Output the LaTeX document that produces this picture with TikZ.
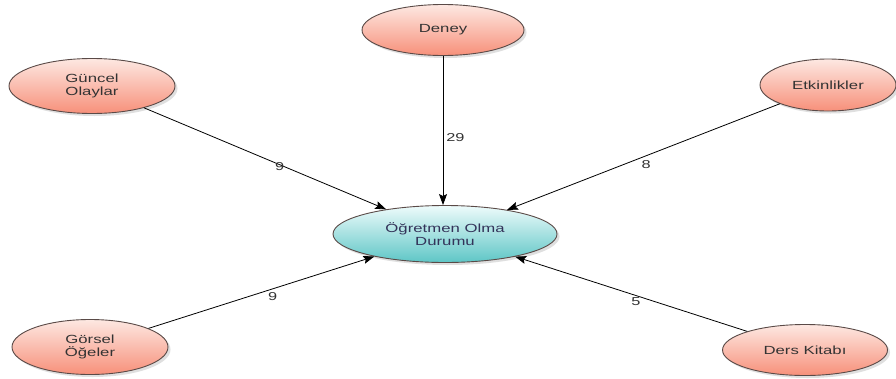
\documentclass[tikz,border=0pt]{standalone}
\usepackage{fontspec}
\setmainfont{Liberation Sans}
\newfontfamily\widefont[FakeStretch=1.42]{Liberation Sans}
\usetikzlibrary{shapes.geometric,arrows.meta,shadows}

\definecolor{pinklight}{HTML}{FDE8E2}
\definecolor{pinkdark}{HTML}{F7907A}
\definecolor{cyanlight}{HTML}{EEFBFB}
\definecolor{cyandark}{HTML}{5EC6C6}
\definecolor{rim}{HTML}{5A4A47}
\definecolor{ink}{HTML}{333333}

\tikzset{
  bubble/.style={ellipse, draw=rim, line width=0.9pt, inner sep=0pt,
    shading angle=45, top color=pinklight, bottom color=pinkdark,
    drop shadow={shadow xshift=2.5pt, shadow yshift=-2.5pt, opacity=0.25, fill=gray},
    align=center, text=ink,
    font=\widefont\fontsize{11.8}{13.5}\selectfont},
  hub/.style={bubble, top color=cyanlight, bottom color=cyandark, text=black!75!blue!60!gray},
  conn/.style={draw=black, line width=0.8pt,
    -{Stealth[length=11pt,width=8pt,inset=2pt]}},
  lbl/.style={inner sep=0pt, text=ink, font=\widefont\fontsize{11.5}{12}\selectfont}
}

\begin{document}
\begin{tikzpicture}[x=1pt,y=-1pt]
\useasboundingbox[fill=white] (0,0) rectangle (896,378);

\node[hub, minimum width=224pt, minimum height=57pt] (ogr) at (445,234) {Öğretmen Olma\\Durumu};

\node[bubble, minimum width=162pt, minimum height=51pt] (den) at (443,30) {Deney};
\node[bubble, minimum width=166pt, minimum height=55pt] (gun) at (92,86) {Güncel\\Olaylar};
\node[bubble, minimum width=136pt, minimum height=52pt] (etk) at (828,85) {Etkinlikler};
\node[bubble, minimum width=156pt, minimum height=55pt] (gor) at (90,347) {Görsel\\Öğeler};
\node[bubble, minimum width=165pt, minimum height=51pt] (der) at (805,350) {Ders Kitabı};

\draw[conn] (gun) -- node[lbl, pos=0.56, yshift=-2pt] {9} (ogr);
\draw[conn] (den.south) -- node[lbl, pos=0.55, anchor=west, xshift=3pt] {29} (den.south |- ogr.north);
\draw[conn] (etk) -- node[lbl, pos=0.49, yshift=-9pt] {8} (ogr);
\draw[conn] (gor) -- node[lbl, pos=0.55, yshift=-8pt] {9} (ogr);
\draw[conn] (der) -- node[lbl, pos=0.48, yshift=-6pt] {5} (ogr);
\end{tikzpicture}
\end{document}
